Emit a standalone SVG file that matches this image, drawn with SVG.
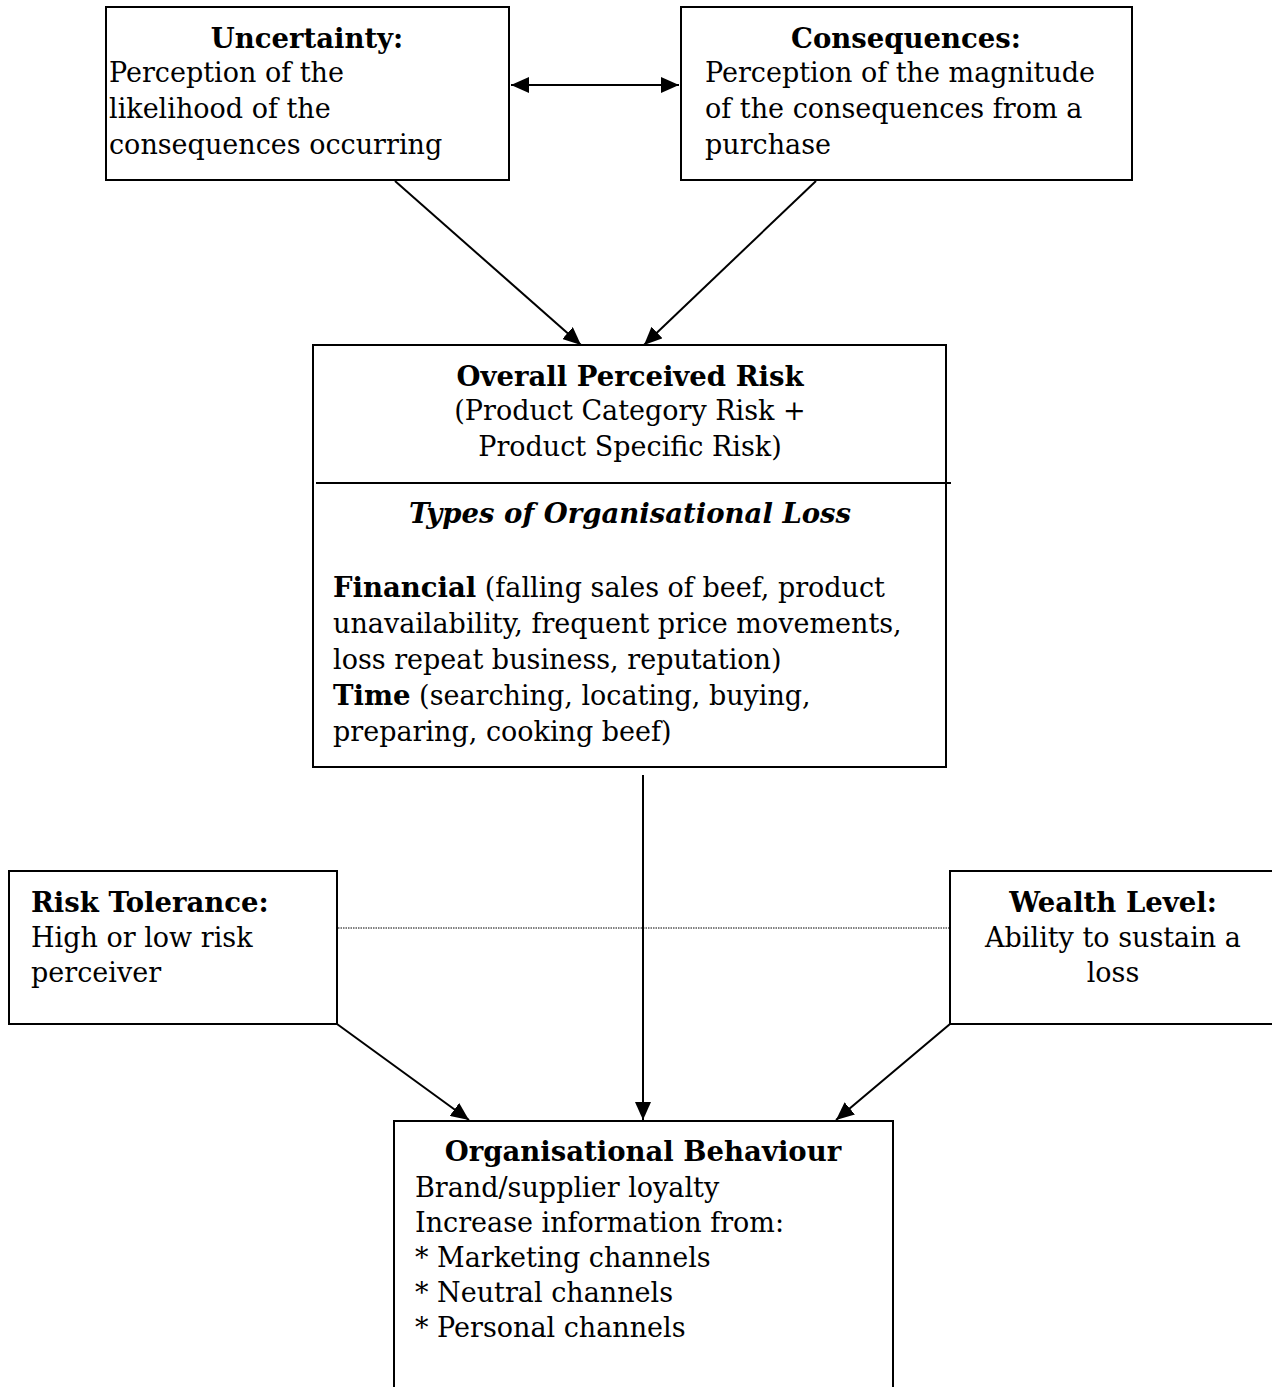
<svg xmlns="http://www.w3.org/2000/svg" width="1272" height="1387" viewBox="0 0 1272 1387">
<style>
text{font-family:"DejaVu Serif","Liberation Serif",serif;font-size:27px;fill:#000}
.b{font-weight:bold;font-size:27.5px}
.i{font-style:italic;font-weight:bold;font-size:27.5px}
.c{text-anchor:middle}
.box{fill:#fff;stroke:#000;stroke-width:2}
.ln{stroke:#000;stroke-width:2;fill:none}
</style>
<defs>
<marker id="ah" markerUnits="userSpaceOnUse" markerWidth="20" markerHeight="16" refX="18" refY="8" orient="auto-start-reverse">
<path d="M0,0 L18,8 L0,16 Z" fill="#000"/>
</marker>
</defs>
<g id="connectors">
<line class="ln" x1="511" y1="85" x2="679" y2="85" marker-start="url(#ah)" marker-end="url(#ah)"/>
<line class="ln" x1="395" y1="181" x2="581" y2="345" marker-end="url(#ah)"/>
<line class="ln" x1="816" y1="181" x2="644" y2="345" marker-end="url(#ah)"/>
<line class="ln" x1="643" y1="775" x2="643" y2="1120" marker-end="url(#ah)"/>
<line class="ln" x1="337" y1="1024" x2="469" y2="1120" marker-end="url(#ah)"/>
<line class="ln" x1="950" y1="1024" x2="836" y2="1120" marker-end="url(#ah)"/>
<line x1="338" y1="928" x2="950" y2="928" stroke="#000" stroke-width="1" stroke-dasharray="1.5,1"/>
</g>
<g id="uncertainty">
<rect class="box" x="106" y="7" width="403" height="173"/>
<text class="b c" x="307" y="48">Uncertainty:</text>
<text x="109" y="82">Perception of the</text>
<text x="109" y="118">likelihood of the</text>
<text x="109" y="154">consequences occurring</text>
</g>
<g id="consequences">
<rect class="box" x="681" y="7" width="451" height="173"/>
<text class="b c" x="906" y="48">Consequences:</text>
<text x="705" y="82">Perception of the magnitude</text>
<text x="705" y="118">of the consequences from a</text>
<text x="705" y="154">purchase</text>
</g>
<g id="overall">
<rect class="box" x="313" y="345" width="633" height="422"/>
<line x1="316" y1="483" x2="951" y2="483" stroke="#000" stroke-width="2"/>
<text class="b c" x="630" y="386">Overall Perceived Risk</text>
<text class="c" x="630" y="420">(Product Category Risk +</text>
<text class="c" x="630" y="456">Product Specific Risk)</text>
<text class="i c" x="630" y="523">Types of Organisational Loss</text>
<text x="333" y="597"><tspan class="b">Financial</tspan> (falling sales of beef, product</text>
<text x="333" y="633">unavailability, frequent price movements,</text>
<text x="333" y="669">loss repeat business, reputation)</text>
<text x="333" y="705"><tspan class="b">Time</tspan> (searching, locating, buying,</text>
<text x="333" y="741">preparing, cooking beef)</text>
</g>
<g id="risk-tolerance">
<rect class="box" x="9" y="871" width="328" height="153"/>
<text class="b" x="31" y="912">Risk Tolerance:</text>
<text x="31" y="947">High or low risk</text>
<text x="31" y="982">perceiver</text>
</g>
<g id="wealth-level">
<rect class="box" x="950" y="871" width="330" height="153"/>
<text class="b c" x="1113" y="912">Wealth Level:</text>
<text class="c" x="1113" y="947">Ability to sustain a</text>
<text class="c" x="1113" y="982">loss</text>
</g>
<g id="org-behaviour">
<rect class="box" x="394" y="1121" width="499" height="280"/>
<text class="b c" x="643" y="1161">Organisational Behaviour</text>
<text x="415" y="1197">Brand/supplier loyalty</text>
<text x="415" y="1232">Increase information from:</text>
<text x="415" y="1267">* Marketing channels</text>
<text x="415" y="1302">* Neutral channels</text>
<text x="415" y="1337">* Personal channels</text>
</g>
</svg>
